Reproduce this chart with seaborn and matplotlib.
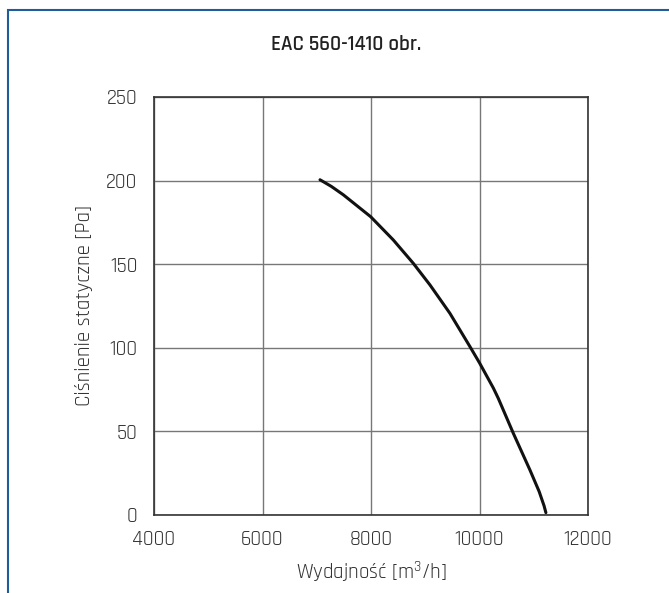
import pandas as pd
import seaborn as sns
import matplotlib
matplotlib.use("Agg")
import matplotlib.pyplot as plt
from matplotlib.patches import Rectangle

# fan curve
flow = [7060, 7270, 7490, 7994, 8411, 8780, 9087, 9455, 9824, 10000, 10254,
        10346, 10623, 10930, 11100, 11190, 11224]
pressure = [200.5, 196.5, 191.5, 178.4, 164.5, 150.5, 137.6, 120.6, 100.7, 91, 76,
            69.8, 48.9, 26.9, 14, 5.5, 1.4]

x_ticks = [4000, 6000, 8000, 10000, 12000]
y_ticks = [0, 50, 100, 150, 200, 250]

title = "EAC 560-1410 obr."
x_label = "Wydajność [m$^3$/h]"
y_label = "Ciśnienie statyczne [Pa]"

sns.set_style("white")
plt.rcParams["font.family"] = ["Rajdhani", "DejaVu Sans"]
plt.rcParams["mathtext.default"] = "regular"
text_color = "#333333"

df = pd.DataFrame({"flow": flow, "pressure": pressure})

fig = plt.figure(figsize=(6.69, 5.93), dpi=100)
ax = fig.add_axes([154 / 669, 1 - 515 / 593, (588 - 154) / 669, (515 - 97) / 593])

sns.lineplot(data=df, x="flow", y="pressure", color="#111111", linewidth=2.2,
             sort=False, ax=ax)

ax.set_xlim(4000, 12000)
ax.set_ylim(0, 250)
ax.set_xticks(x_ticks)
ax.set_yticks(y_ticks)
ax.grid(True, color="#777777", linewidth=1.0)
ax.set_axisbelow(True)
for sp in ax.spines.values():
    sp.set_color("#333333")
    sp.set_linewidth(1.2)
ax.tick_params(axis="both", length=0, labelsize=15, labelcolor=text_color)
ax.tick_params(axis="y", pad=12)
ax.tick_params(axis="x", pad=11)
ax.set_xlabel(x_label, fontsize=15, color=text_color, labelpad=8)
ax.set_ylabel(y_label, fontsize=15, color=text_color, labelpad=9)

fig.text(346 / 669, 1 - 44 / 593, title, ha="center", va="center", fontsize=15,
         fontweight=600, color="#222222")

# blue frame around the card (left and top edges visible)
fig.patches.append(Rectangle((8 / 669, -0.05), 1.2, 1 - 10 / 593 + 0.05,
                             transform=fig.transFigure, fill=False,
                             edgecolor="#1f5c99", linewidth=1.5))

fig.savefig("out.png", dpi=100)
